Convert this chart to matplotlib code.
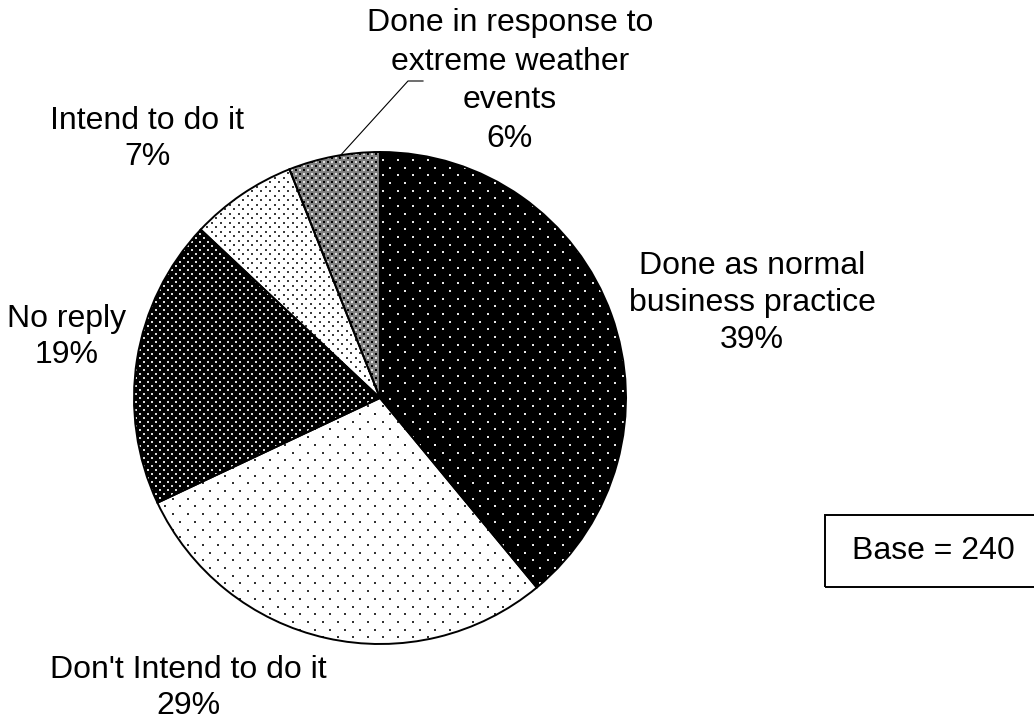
import matplotlib.pyplot as plt
import numpy as np
from matplotlib.patches import Rectangle

plt.rcParams['font.family'] = ['Liberation Sans', 'DejaVu Sans']

# survey answers, clockwise from 12 o'clock
labels = ['Done as normal\nbusiness practice', "Don't Intend to do it", 'No reply',
          'Intend to do it', 'Done in response to\nextreme weather\nevents']
shares = [39, 29, 19, 7, 6]
base_n = 240

W, H = 1034, 722
fig = plt.figure(figsize=(W / 100, H / 100), dpi=100)
ax = fig.add_axes([0, 0, 1, 1])

# work in pixel-like units, y measured from the bottom
cx, cy, r = 380, H - 398, 246

def px(x, y):
    return x, H - y

# fill + texture per slice: (face, dot colour, dot size, dx, dy)
styles = [
    ('black', '#e6e6e6', 2.2, 15, 7.7),
    ('white', '#333333', 3.4, 15, 7.7),
    ('black', '#d8d8d8', 2.0, 8, 4),
    ('white', '#3c3c3c', 2.6, 9, 4.5),
    ('#808080', 'black', 3.2, 8, 4),
]

wedges, _ = ax.pie(shares, startangle=90, counterclock=False, center=(cx, cy), radius=r,
                   colors=[s[0] for s in styles], wedgeprops=dict(linewidth=0), frame=True)


def lattice(dx, dy, ox=0.0):
    pts = []
    for i, y in enumerate(np.arange(0, H + dy, dy)):
        shift = (dx / 2) * (i % 2) + ox
        for x in np.arange(-dx, W + dx, dx):
            pts.append((x + shift, y))
    return np.array(pts)


for w, (face, dot, size, dx, dy) in zip(wedges, styles):
    pts = lattice(dx, dy)
    sc = ax.scatter(pts[:, 0], pts[:, 1], s=size, c=dot, marker='s', linewidths=0, zorder=2)
    sc.set_clip_path(w)
    if face == '#808080':
        # lighter cross points between the dark ones
        pts2 = lattice(dx, dy, ox=dx / 2)
        sc2 = ax.scatter(pts2[:, 0], pts2[:, 1], s=1.6, c='#e0e0e0', marker='s',
                         linewidths=0, zorder=2)
        sc2.set_clip_path(w)

# slice outlines on top of the texture
ax.pie(shares, startangle=90, counterclock=False, center=(cx, cy), radius=r,
       wedgeprops=dict(fill=False, edgecolor='black', linewidth=1.4, zorder=3), frame=True)

fs = 23
label_pos = [(752, 303), (188, 688), (67, 337), (147, 139), (510, 81)]
spacing = [1.3, 1.3, 1.3, 1.3, 1.38]
for lab, v, (x, y), ls in zip(labels, shares, label_pos, spacing):
    ax.text(*px(x, y), f'{lab}\n{v}%', ha='center', va='center', fontsize=fs,
            linespacing=ls, color='black')

# leader for the small slice
ax.plot([339, 408, 423], [H - 157, H - 81, H - 81], color='black', linewidth=0.8, zorder=4)

ax.add_patch(Rectangle(px(825, 587), 260, 72, fill=False, edgecolor='black', linewidth=1.4))
ax.text(*px(933, 551), f'Base = {base_n}', ha='center', va='center', fontsize=fs)

ax.set_xlim(0, W)
ax.set_ylim(0, H)
ax.set_aspect('auto')
ax.axis('off')

fig.savefig('out.png', dpi=100, facecolor='white')
